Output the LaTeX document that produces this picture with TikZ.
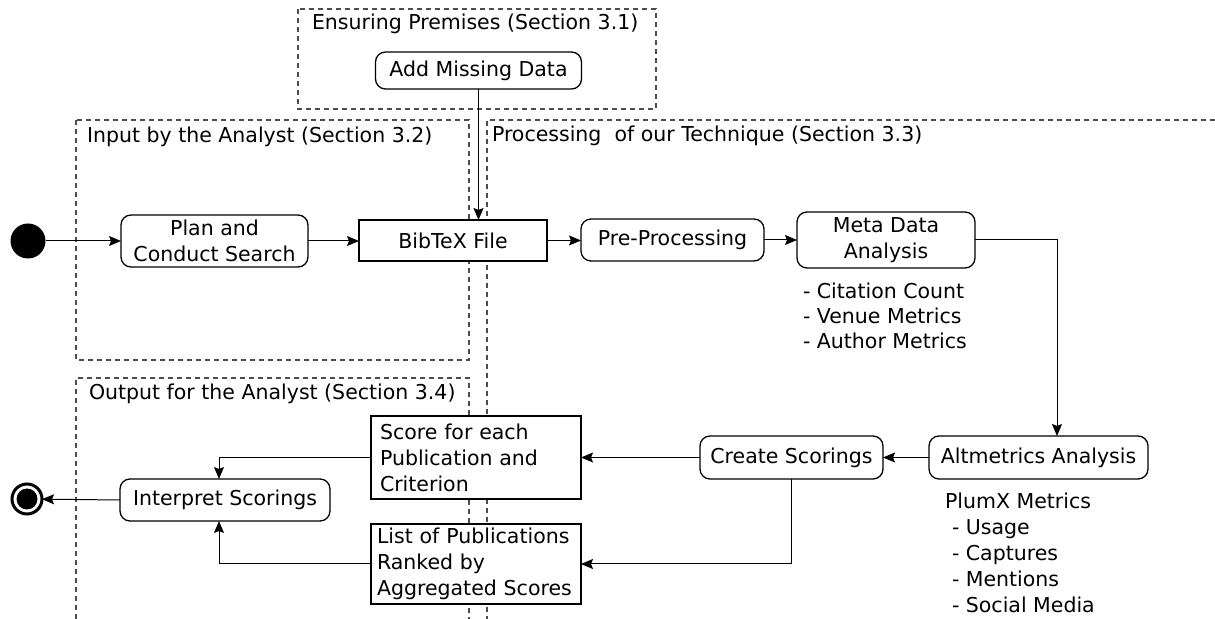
\documentclass[tikz,border=0pt]{standalone}
\usepackage{fontspec}
\setmainfont{DejaVu Sans}
\usetikzlibrary{arrows.meta}
\begin{document}
\begin{tikzpicture}[x=0.5pt,y=-0.5pt,
  font=\fontsize{10.25}{13}\selectfont,
  every node/.style={inner sep=0pt, outer sep=0pt},
  region/.style={draw=black!70, dash pattern=on 2.5pt off 2pt, line width=0.6pt},
  action/.style={draw, fill=white, rounded corners=5pt, line width=0.65pt, align=center},
  artefact/.style={draw, fill=white, line width=0.65pt},
  flow/.style={-{Stealth[length=6pt,width=5pt,inset=1pt]}, line width=0.5pt},
  label/.style={anchor=west, align=left}
]
\useasboundingbox (0,0) rectangle (1215,619);

% swimlane-like regions
\draw[region] (298,9) rectangle (656,109);
\draw[region] (76,120) rectangle (469,360);
\draw[region] (1215,120) -- (487,120) -- (487,619);
\draw[region] (76,619) -- (76,378) -- (469,378) -- (469,619);

\node[label] (tpremises) at (312,24) {Ensuring Premises (Section 3.1)};
\node[label] (tinput) at (87,137) {Input by the Analyst (Section 3.2)};
\node[label] (tprocess) at (492,136) {Processing~ of our Technique (Section 3.3)};
\node[label] (toutput) at (89,394) {Output for the Analyst (Section 3.4)};

% initial and final states
\node[circle, fill, minimum size=17.5pt] (start) at (28,241) {};
\node[circle, draw, fill=white, line width=1.5pt, minimum size=15pt] (end) at (27,499) {};
\node[circle, fill, minimum size=10.5pt] (endcore) at (27,499) {};

% activities and artefacts
\node[action, minimum width=93.5pt, minimum height=26pt] (plan) at (214.5,241) {Plan and\\Conduct Search};
\node[artefact, minimum width=94pt, minimum height=20.5pt] (bib) at (453,240.5) {BibTeX File};
\node[action, minimum width=103pt, minimum height=18.5pt] (add) at (478.5,70.5) {Add Missing Data};
\node[action, minimum width=91.5pt, minimum height=21pt] (pre) at (672.5,240) {Pre-Processing};
\node[action, minimum width=89pt, minimum height=28pt] (meta) at (886,240) {Meta Data\\Analysis};
\node[action, minimum width=109.5pt, minimum height=21.5pt] (alt) at (1038.5,457.5) {Altmetrics Analysis};
\node[action, minimum width=91.5pt, minimum height=21.5pt] (create) at (791.5,457.5) {Create Scorings};
\node[artefact, inner xsep=4.5pt, text width=96pt, minimum height=41.5pt, align=left] (score) at (476,457.5)
  {Score for each\\Publication and\\Criterion};
\node[artefact, inner xsep=3pt, text width=99pt, minimum height=40pt, align=left] (list) at (476,564)
  {List of Publications\\Ranked by\\Aggregated Scores};
\node[action, minimum width=105pt, minimum height=21pt] (interp) at (225,500) {Interpret Scorings};

% metric annotations
\node[label, font=\fontsize{10.25}{12.5}\selectfont] (metalist) at (803,316)
  {- Citation Count\\- Venue Metrics\\- Author Metrics};
\node[label] (plumx) at (945,553)
  {PlumX Metrics\\\hspace*{3.5pt}- Usage\\\hspace*{3.5pt}- Captures\\\hspace*{3.5pt}- Mentions\\\hspace*{3.5pt}- Social Media};

% bend points
\coordinate (metaturn) at (1057,240);
\coordinate (interpx) at (219,500);

% control flow
\draw[flow] (start) -- (plan.west |- start);
\draw[flow] (plan.east) -- (plan.east -| bib.west);
\draw[flow] (add.south) -- (add.south |- bib.north);
\draw[flow] (bib.east) -- (bib.east -| pre.west);
\draw[flow] (pre.east) -- (pre.east -| meta.west);
\draw[flow] (meta.east) -- (metaturn) -- (metaturn |- alt.north);
\draw[flow] (alt.west) -- (create.east);
\draw[flow] (create.west) -- (score.east);
\draw[flow] (create.south) |- (list.east);
\draw[flow] (score.west) -| (interpx |- interp.north);
\draw[flow] (list.west) -| (interpx |- interp.south);
\draw[flow] (interp.west) -- (end);
\end{tikzpicture}
\end{document}
